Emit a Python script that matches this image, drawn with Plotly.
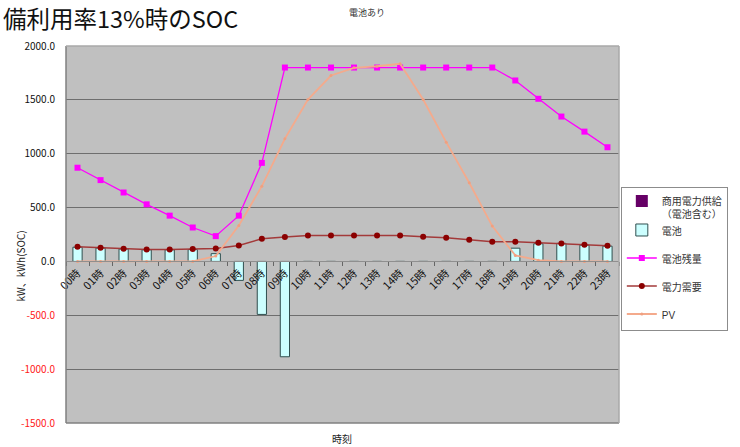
import plotly.graph_objects as go

# 時刻ラベル
hours = ["00時", "01時", "02時", "03時", "04時", "05時", "06時", "07時",
         "08時", "09時", "10時", "11時", "12時", "13時", "14時", "15時",
         "16時", "17時", "18時", "19時", "20時", "21時", "22時", "23時"]

# 商用電力供給（電池含む） [kW]
commercial = [0, 0, 0, 0, 0, 0, 0, 0, 0, 0, 0, 0,
              0, 0, 0, 0, 0, 0, 0, 0, 0, 0, 0, 0]

# 電池 充放電 [kW]（正: 放電, 負: 充電）
battery = [132, 124, 115, 108, 108, 110, 72, -176, -492, -885, 0, 0,
           0, 0, 0, 0, 0, 0, 0, 123, 164, 168, 151, 142]

# 電池残量 [kWh]
soc = [870, 755, 640, 530, 425, 315, 235, 425, 915, 1800, 1800, 1800,
       1800, 1800, 1800, 1800, 1800, 1800, 1800, 1680, 1510, 1345, 1205, 1060]

# 電力需要 [kW]
demand = [136, 127, 118, 111, 111, 115, 121, 148, 210, 226, 241, 241,
          241, 241, 241, 229, 220, 201, 183, 183, 173, 167, 155, 145]

# PV 発電 [kW]
pv = [0, 0, 0, 0, 0, 0, 50, 334, 699, 1139, 1503, 1726,
      1797, 1812, 1835, 1503, 1107, 730, 328, 56, 12, 0, 0, 0]

# 縦軸目盛
y_ticks = [-1500, -1000, -500, 0, 500, 1000, 1500, 2000]

FONT = "Noto Sans CJK JP"
LEGEND_FONT = "Liberation Sans, Noto Sans CJK JP"
Y_MIN, Y_MAX = -1500, 2000


def tick_label(v):
    s = f"{v:.1f}"
    if v < 0:
        return f"<span style='color:#ff2020'>{s}</span>"
    return s


fig = go.Figure()

fig.add_trace(go.Bar(
    x=hours, y=commercial, name="商用電力供給<br>（電池含む）",
    marker=dict(color="#660066", line=dict(width=0)),
    width=0.4, legendgroup="g1",
))
fig.add_trace(go.Bar(
    x=hours, y=battery, name="電池",
    marker=dict(color="#ccffff", line=dict(color="#2f4f4f", width=1)),
    width=0.4, legendgroup="g1",
))
fig.add_trace(go.Scatter(
    x=hours, y=soc, name="電池残量", mode="lines+markers",
    line=dict(color="#ff00ff", width=1.3),
    marker=dict(symbol="square", size=6, color="#ff00ff"),
    legendgroup="g3",
))
fig.add_trace(go.Scatter(
    x=hours, y=demand, name="電力需要", mode="lines+markers",
    line=dict(color="#a33a3a", width=1.5),
    marker=dict(symbol="circle", size=6, color="#8b0000"),
    legendgroup="g4",
))
fig.add_trace(go.Scatter(
    x=hours, y=pv, name="PV", mode="lines+markers",
    line=dict(color="#f4aa8c", width=1.8),
    marker=dict(symbol="circle", size=3, color="#f0a080"),
    legendgroup="g5",
))

fig.update_layout(
    width=740, height=447,
    margin=dict(l=66, r=115, t=46, b=24),
    paper_bgcolor="white",
    plot_bgcolor="#c0c0c0",
    barmode="overlay",
    font=dict(family=FONT, size=10, color="#222222"),
    showlegend=True,
    legend=dict(
        x=(735 - 66) / 559, y=0.626, xanchor="right", yanchor="top",
        bgcolor="white", bordercolor="#8c8c8c", borderwidth=1,
        font=dict(family=LEGEND_FONT, size=10, color="#333333"),
        tracegroupgap=9, itemwidth=30, valign="top",
    ),
    xaxis=dict(
        type="category",
        anchor="free",
        position=(0 - Y_MIN) / (Y_MAX - Y_MIN),
        showgrid=False,
        showline=True, linecolor="#8f8f8f", linewidth=1,
        ticks="outside", tickson="boundaries", ticklen=4,
        tickcolor="#666666",
        tickangle=-45,
        tickfont=dict(family=FONT, size=11, color="#111111"),
        range=[-0.5, 23.5],
    ),
    yaxis=dict(
        range=[Y_MIN, Y_MAX],
        tickvals=y_ticks,
        ticktext=[tick_label(v) for v in y_ticks],
        showgrid=True, gridcolor="#6e6e6e", gridwidth=1,
        zeroline=False,
        showline=False,
        ticks="",
        ticklabelstandoff=10,
        tickfont=dict(family=FONT, size=10, color="#111111"),
    ),
)

# プロットエリアの枠
fig.add_shape(type="line", xref="paper", yref="paper", x0=0, x1=0, y0=0, y1=1,
              line=dict(color="#808080", width=1.5))
fig.add_shape(type="line", xref="paper", yref="paper", x0=0, x1=1, y0=0, y1=0,
              line=dict(color="#808080", width=1.5))
fig.add_shape(type="line", xref="paper", yref="paper", x0=0, x1=1, y0=1, y1=1,
              line=dict(color="#a8a8a8", width=1.5))
fig.add_shape(type="line", xref="paper", yref="paper", x0=1, x1=1, y0=0, y1=1,
              line=dict(color="#a8a8a8", width=1.5))

# タイトル類
fig.add_annotation(
    text="備利用率13%時のSOC", xref="paper", yref="paper",
    x=-66 / 559, y=1 + 47 / 377, xanchor="left", yanchor="top",
    showarrow=False, font=dict(family=FONT, size=23.5, color="#111111"),
)
fig.add_annotation(
    text="電池あり", xref="paper", yref="paper",
    x=(370 - 66) / 559, y=1 + 42 / 377, xanchor="center", yanchor="top",
    showarrow=False, font=dict(family=FONT, size=9, color="#333333"),
)
fig.add_annotation(
    text="時刻", xref="paper", yref="paper",
    x=(345 - 66) / 559, y=-6 / 377, xanchor="center", yanchor="top",
    showarrow=False, font=dict(family=FONT, size=10, color="#222222"),
)
fig.add_annotation(
    text="kW、kWh(SOC)", xref="paper", yref="paper",
    x=(20 - 66) / 559, y=(423 - 266) / 377, xanchor="center", yanchor="middle",
    textangle=-90,
    showarrow=False, font=dict(family=FONT, size=10, color="#222222"),
)

fig.write_html("out.html")
